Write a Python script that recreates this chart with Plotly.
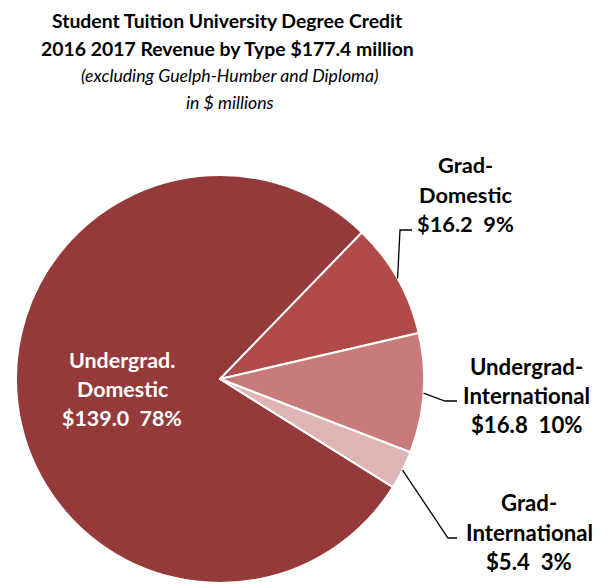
import math
import plotly.graph_objects as go

# ---- data ----
categories = ["Undergrad. Domestic", "Grad- Domestic", "Undergrad- International", "Grad- International"]
label_lines = [["Undergrad.", "Domestic"], ["Grad-", "Domestic"], ["Undergrad-", "International"], ["Grad-", "International"]]
values = [139.0, 16.2, 16.8, 5.4]
pct_labels = ["78%", "9%", "10%", "3%"]
colors = ["#953A3B", "#B04B49", "#C87B7A", "#DEB5B4"]

title_lines = ["Student Tuition University Degree Credit",
               "2016 2017 Revenue by Type $177.4 million"]
subtitle_lines = ["(excluding Guelph-Humber and Diploma)", "in $ millions"]

# ---- layout constants ----
W, H = 608, 584
CX, CY, R = 220, 379, 204
ROTATION = 122
FONT = "Lato"

def px(x):
    return x / W

def py(y):
    return 1 - y / H

fig = go.Figure(go.Pie(
    labels=categories, values=values, sort=False, direction="clockwise",
    rotation=ROTATION, textinfo="none", hoverinfo="label+value+percent",
    marker=dict(colors=colors, line=dict(color="white", width=2)),
    domain=dict(x=[px(CX - R), px(CX + R)], y=[py(CY + R), py(CY - R)]),
    showlegend=False,
))

ann = []
for i, t in enumerate(title_lines):
    ann.append(dict(x=px(227), y=py([20, 48][i]), text="<b>%s</b>" % t, showarrow=False,
                    xanchor="center", yanchor="middle",
                    font=dict(family=FONT, size=19.4, color="black")))
for i, t in enumerate(subtitle_lines):
    ann.append(dict(x=px(230), y=py([76, 103][i]), text="<i>%s</i>" % t, showarrow=False,
                    xanchor="center", yanchor="middle",
                    font=dict(family=FONT, size=17.7, color="black")))

# label placement (pixel) for each slice: center x, first line y
label_pos = [(122, 360), (465, 165), (526, 366), (529, 503)]
label_sizes = [21.4, 21.8, 22.2, 22.2]
line_gap = 29
for i, (lx, ly) in enumerate(label_pos):
    lines = label_lines[i] + ["$%.1f  %s" % (values[i], pct_labels[i])]
    col = "white" if i == 0 else "black"
    for j, t in enumerate(lines):
        ann.append(dict(x=px(lx), y=py(ly + j * line_gap), text="<b>%s</b>" % t, showarrow=False,
                        xanchor="center", yanchor="middle",
                        font=dict(family=FONT, size=label_sizes[i], color=col)))

# leader lines from slice mid-angle on the rim
elbows = {1: ((400, 230), (412, 230)), 2: ((445, 401), (457, 401)), 3: ((448, 538), (457, 538))}
total = sum(values)
cum = 0.0
shapes = []
for i, v in enumerate(values):
    mid = math.radians(ROTATION + (cum + v / 2) / total * 360)
    cum += v
    if i not in elbows:
        continue
    sx = CX + R * math.sin(mid)
    sy = CY - R * math.cos(mid)
    (ex, ey), (fx, fy) = elbows[i]
    path = "M %f %f L %f %f L %f %f" % (px(sx), py(sy), px(ex), py(ey), px(fx), py(fy))
    shapes.append(dict(type="path", path=path, xref="paper", yref="paper",
                       line=dict(color="black", width=1.3)))

fig.update_layout(
    width=W, height=H, margin=dict(l=0, r=0, t=0, b=0),
    paper_bgcolor="white", plot_bgcolor="white",
    annotations=ann, shapes=shapes,
)

fig.write_html("out.html")
